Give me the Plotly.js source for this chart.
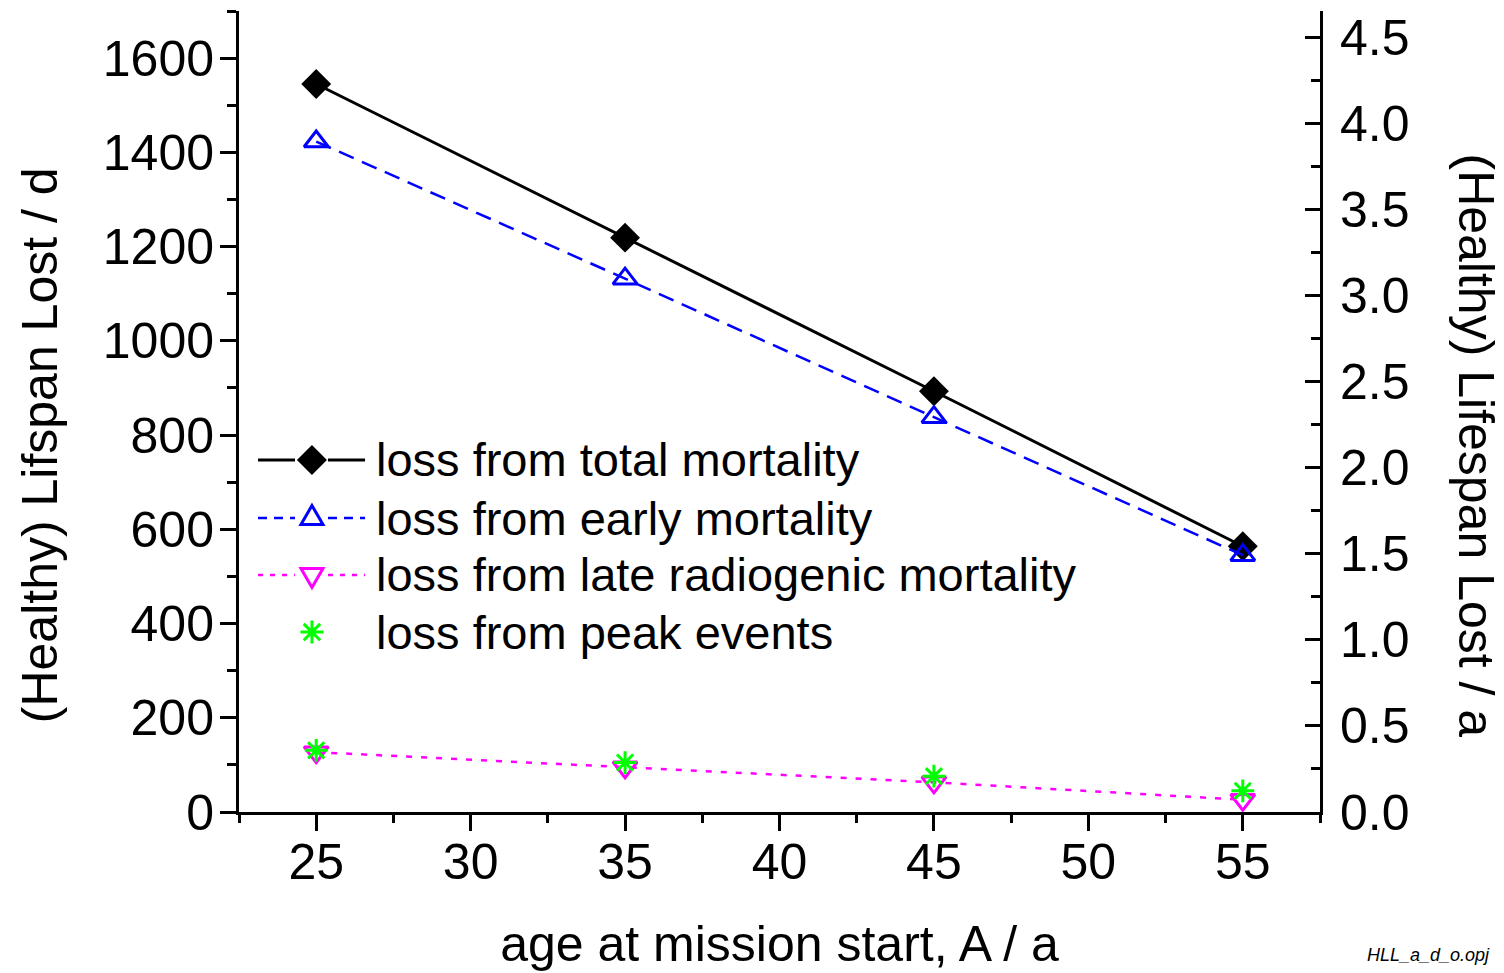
<!DOCTYPE html>
<html>
<head>
<meta charset="utf-8">
<script src="https://cdn.plot.ly/plotly-3.0.1.min.js"></script>
<style>html,body{margin:0;padding:0;background:#fff;}#chart{width:1504px;height:973px;}</style>
</head>
<body>
<div id="chart"></div>
<script>
// ---- data ----
var ages = [25, 35, 45, 55];
var totalLoss = [1545, 1219, 893, 564];
var earlyLoss = [1423, 1132, 838, 545];
var lateLoss = [127, 95, 63, 26];
var peakLoss = [131, 105, 76, 45];
var seriesNames = [
  'loss from total mortality',
  'loss from early mortality',
  'loss from late radiogenic mortality',
  'loss from peak events'
];
var daysPerYear = 365.25;
var yMaxDays = 1700;

var FONT = 'Liberation Sans, Arial, sans-serif';

var traces = [
  {x: ages, y: totalLoss, name: seriesNames[0], mode: 'lines+markers',
   line: {color: '#000000', width: 3},
   marker: {symbol: 'diamond', size: 23, color: '#000000'}},
  {x: ages, y: earlyLoss, name: seriesNames[1], mode: 'lines+markers',
   line: {color: '#0000FF', width: 2.5, dash: '16px,9px'},
   marker: {symbol: 'triangle-up-open', size: 21, color: '#0000FF', line: {width: 3, color: '#0000FF'}}},
  {x: ages, y: lateLoss, name: seriesNames[2], mode: 'lines+markers',
   line: {color: '#FF00FF', width: 2.5, dash: '6px,9px'},
   marker: {symbol: 'triangle-down-open', size: 21, color: '#FF00FF', line: {width: 3, color: '#FF00FF'}}},
  {x: ages, y: peakLoss, name: seriesNames[3], mode: 'markers',
   marker: {symbol: 'asterisk-open', size: 19, color: '#00FF00', line: {width: 3, color: '#00FF00'}}},
  // same total series expressed in years, invisible, so that the right-hand axis (years) is drawn
  {x: ages, y: totalLoss.map(function (v) { return v / daysPerYear; }), yaxis: 'y2', mode: 'markers',
   marker: {opacity: 0, size: 1}, hoverinfo: 'skip', showlegend: false}
];

// ---- custom legend (Origin style) ----
var legRowsY = [0.4395, 0.367, 0.2959, 0.2247];
var legLineX = [[0.0176, 0.0518], [0.0823, 0.1166]];
var legMarkX = 0.0675;
var legTextX = 0.1245;
var legStyles = [
  {color: '#000000', dash: 'solid', width: 3, path: 'M-15,0 L0,15 L15,0 L0,-15 Z', fill: '#000000', showLine: true},
  {color: '#0000FF', dash: '9px,7px', width: 2.5, path: 'M-11,-6.5 L11,-6.5 L0,12.5 Z', fill: 'rgba(0,0,0,0)', showLine: true},
  {color: '#FF00FF', dash: '5px,7px', width: 2.5, path: 'M-11,6.5 L11,6.5 L0,-12.5 Z', fill: 'rgba(0,0,0,0)', showLine: true},
  {color: '#00FF00', dash: 'solid', width: 3, path: 'M0,-11.5 V11.5 M-11.5,0 H11.5 M-8.2,-8.2 L8.2,8.2 M-8.2,8.2 L8.2,-8.2', fill: 'rgba(0,0,0,0)', showLine: false}
];
var shapes = [];
var annotations = [];
legStyles.forEach(function (s, i) {
  var yy = legRowsY[i];
  if (s.showLine) {
    legLineX.forEach(function (seg) {
      shapes.push({type: 'line', xref: 'paper', yref: 'paper', x0: seg[0], x1: seg[1], y0: yy, y1: yy,
        line: {color: s.color, width: s.width, dash: s.dash}});
    });
  }
  shapes.push({type: 'path', xref: 'paper', yref: 'paper', xsizemode: 'pixel', ysizemode: 'pixel',
    xanchor: legMarkX, yanchor: yy, path: s.path, fillcolor: s.fill,
    line: {color: s.color, width: (i === 0 ? 0 : 3)}});
  annotations.push({xref: 'paper', yref: 'paper', x: legTextX, y: yy, xanchor: 'left', yanchor: 'middle',
    text: seriesNames[i], showarrow: false, font: {family: FONT, size: 47, color: '#000'}});
});

annotations.push({xref: 'paper', yref: 'paper', x: -0.184, y: 0.458, textangle: -90,
  text: '(Healthy) Lifspan Lost / d', showarrow: false, xanchor: 'center', yanchor: 'middle',
  font: {family: FONT, size: 50, color: '#000'}});
annotations.push({xref: 'paper', yref: 'paper', x: 1.144, y: 0.458, textangle: 90,
  text: '(Healthy) Lifespan Lost / a', showarrow: false, xanchor: 'center', yanchor: 'middle',
  font: {family: FONT, size: 50, color: '#000'}});
annotations.push({xref: 'paper', yref: 'paper', x: 1.159, y: -0.1785, xanchor: 'right', yanchor: 'middle',
  text: '<i>HLL_a_d_o.opj</i>', showarrow: false, font: {family: FONT, size: 18, color: '#000'}});

var layout = {
  width: 1504, height: 973,
  margin: {l: 239, r: 184, t: 11, b: 161, pad: 0},
  paper_bgcolor: '#ffffff', plot_bgcolor: '#ffffff',
  showlegend: false,
  font: {family: FONT, color: '#000'},
  xaxis: {
    range: [22.5, 57.5], tick0: 25, dtick: 5,
    ticks: 'outside', ticklen: 16, tickwidth: 3, tickcolor: '#000',
    minor: {dtick: 2.5, ticks: 'outside', ticklen: 8, tickwidth: 3, tickcolor: '#000', showgrid: false},
    showline: true, linewidth: 3, linecolor: '#000', showgrid: false, zeroline: false,
    tickfont: {family: FONT, size: 50, color: '#000'},
    ticklabelstandoff: -12,
    title: {text: 'age at mission start, A / a', font: {family: FONT, size: 50, color: '#000'}, standoff: 37}
  },
  yaxis: {
    range: [0, yMaxDays], tick0: 0, dtick: 200,
    ticks: 'outside', ticklen: 16, tickwidth: 3, tickcolor: '#000',
    minor: {dtick: 100, ticks: 'outside', ticklen: 9, tickwidth: 3, tickcolor: '#000', showgrid: false},
    showline: true, linewidth: 3, linecolor: '#000', showgrid: false, zeroline: false,
    tickfont: {family: FONT, size: 50, color: '#000'},
    ticklabelstandoff: -4
  },
  yaxis2: {
    overlaying: 'y', side: 'right', anchor: 'x',
    range: [0, yMaxDays / daysPerYear], tick0: 0, dtick: 0.5, tickformat: '.1f',
    ticks: 'inside', ticklen: 15, tickwidth: 3, tickcolor: '#000',
    minor: {dtick: 0.25, ticks: 'inside', ticklen: 9, tickwidth: 3, tickcolor: '#000', showgrid: false},
    showline: true, linewidth: 3, linecolor: '#000', showgrid: false, zeroline: false,
    tickfont: {family: FONT, size: 50, color: '#000'},
    ticklabelstandoff: 7
  },
  shapes: shapes,
  annotations: annotations
};

Plotly.newPlot('chart', traces, layout, {displayModeBar: false, staticPlot: true});
</script>
</body>
</html>
